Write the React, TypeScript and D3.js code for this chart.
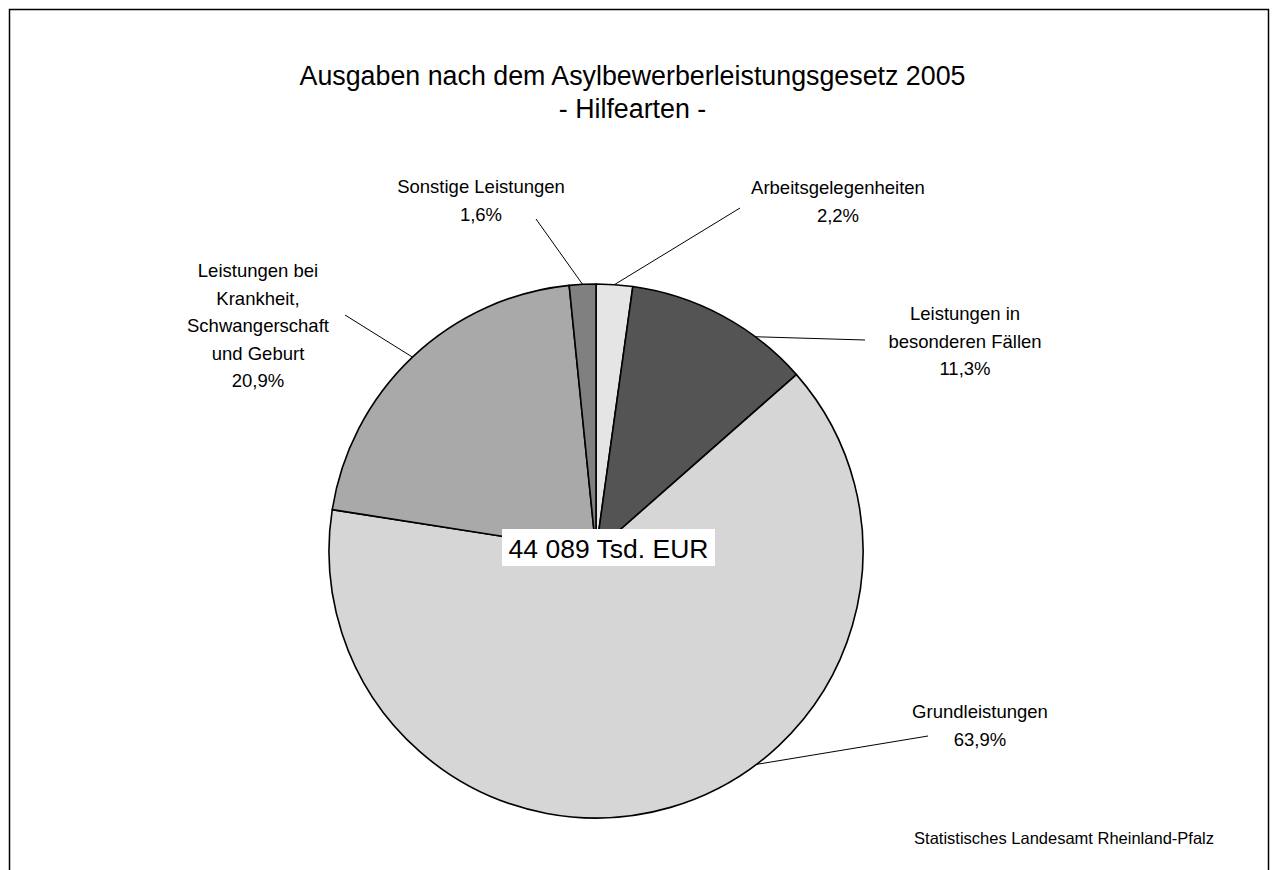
import React from "react";
import * as d3 from "d3";

// ---- data ----
const categories = [
  "Arbeitsgelegenheiten",
  "Leistungen in besonderen Fällen",
  "Grundleistungen",
  "Leistungen bei Krankheit, Schwangerschaft und Geburt",
  "Sonstige Leistungen",
];
const shares = [2.2, 11.3, 63.9, 20.9, 1.6];
const labelLines = [
  ["Arbeitsgelegenheiten"],
  ["Leistungen in", "besonderen Fällen"],
  ["Grundleistungen"],
  ["Leistungen bei", "Krankheit,", "Schwangerschaft", "und Geburt"],
  ["Sonstige Leistungen"],
];
const totalLabel = "44 089 Tsd. EUR";
const titleLines = ["Ausgaben nach dem Asylbewerberleistungsgesetz 2005", "- Hilfearten -"];
const sourceText = "Statistisches Landesamt Rheinland-Pfalz";

// ---- styles / layout ----
const palette = ["#e5e5e5", "#545454", "#d6d6d6", "#a9a9a9", "#808080"];
// label placement: text centre x, first baseline y, leader start, anchor fraction within slice
const labelLayout = [
  { x: 838, y: 194, lx: 740, ly: 208, f: 0.5 },
  { x: 965, y: 320, lx: 865, ly: 340, f: 0.705 },
  { x: 980, y: 718, lx: 928, ly: 736, f: 0.41 },
  { x: 258, y: 277, lx: 345, ly: 315, f: 0.5 },
  { x: 481, y: 193, lx: 536, ly: 219, f: 0.5 },
];

const W = 1277;
const H = 870;
const CX = 596;
const CY = 551;
const R = 267;
const FONT = "'Liberation Sans', Arial, Helvetica, sans-serif";
const LINE_H = 27.5;

const fmt = (v: number) => v.toFixed(1).replace(".", ",") + "%";

export default function App() {
  const pie = d3
    .pie<number>()
    .sort(null)
    .value((d) => d)
    .startAngle(0)
    .endAngle(2 * Math.PI);
  const arcs = pie(shares);
  const arc = d3.arc<d3.PieArcDatum<number>>().innerRadius(0).outerRadius(R);

  return (
    <svg
      width={W}
      height={H}
      style={{ position: "absolute", left: 0, top: 0, background: "#fff" }}
      fontFamily={FONT}
    >
      <rect x={9.5} y={9.5} width={1259} height={900} fill="#fff" stroke="#000" strokeWidth={1.5} />

      {titleLines.map((t, i) => (
        <text key={t} x={632.5} y={85 + i * 33} textAnchor="middle" fontSize={26.8} fill="#000">
          {t}
        </text>
      ))}

      <g transform={`translate(${CX},${CY})`}>
        {arcs.map((a, i) => (
          <path key={categories[i]} d={arc(a) || ""} fill={palette[i]} stroke="#000" strokeWidth={1.6} strokeLinejoin="round" />
        ))}
      </g>

      {arcs.map((a, i) => {
        const L = labelLayout[i];
        const ang = a.startAngle + (a.endAngle - a.startAngle) * L.f;
        const ax = CX + R * Math.sin(ang);
        const ay = CY - R * Math.cos(ang);
        const lines = [...labelLines[i], fmt(shares[i])];
        return (
          <g key={"lab" + i}>
            <line x1={L.lx} y1={L.ly} x2={ax} y2={ay} stroke="#000" strokeWidth={1} />
            {lines.map((t, j) => (
              <text key={j} x={L.x} y={L.y + j * LINE_H} textAnchor="middle" fontSize={18.5} fill="#000">
                {t}
              </text>
            ))}
          </g>
        );
      })}

      <rect x={502} y={529} width={213} height={37} fill="#fff" />
      <text x={608.5} y={557.5} textAnchor="middle" fontSize={26.5} fill="#000">
        {totalLabel}
      </text>

      <text x={1214} y={844} textAnchor="end" fontSize={16.5} fill="#000">
        {sourceText}
      </text>
    </svg>
  );
}
